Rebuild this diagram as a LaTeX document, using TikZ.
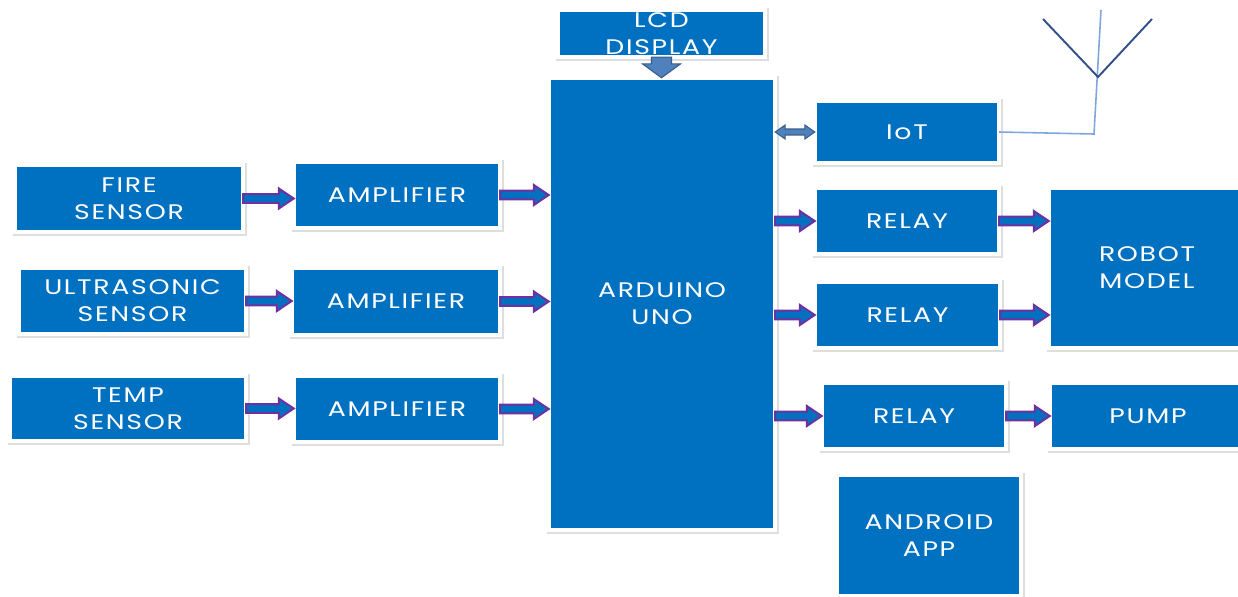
\documentclass[tikz,border=0pt]{standalone}
\usepackage{fontspec}
\newfontfamily\boxfont[LetterSpace=8,FakeStretch=1.27]{Poppins}
\usetikzlibrary{calc}
\definecolor{boxblue}{HTML}{0070C0}
\definecolor{arrowpurple}{HTML}{7030A0}
\definecolor{steel}{HTML}{4F81BD}
\definecolor{steeledge}{HTML}{385D8A}
\definecolor{wireblue}{HTML}{7FA6DC}
\definecolor{mastblue}{HTML}{34508A}
\tikzset{
    blk/.style 2 args={fill=boxblue, draw=white, line width=2.5pt, text=white,
        font=\boxfont\fontsize{12}{15.5}\selectfont, align=center, inner sep=0pt, outer sep=0pt,
        minimum width=#1*0.02cm+2.5pt, minimum height=#2*0.02cm+2.5pt,
        preaction={draw=black!13, line width=3pt, transform canvas={shift={(0.5pt,-0.7pt)}}}},
    fatarrow/.style={draw=arrowpurple, fill=boxblue, line width=1.1pt, line join=miter,
        to path={let \p1=(\tikztostart), \p2=(\tikztotarget) in
            (\x1,\y1+2.5pt) -- (\x2-8.5pt,\y1+2.5pt) -- (\x2-8.5pt,\y1+5.7pt) -- (\x2,\y1)
            -- (\x2-8.5pt,\y1-5.7pt) -- (\x2-8.5pt,\y1-2.5pt) -- (\x1,\y1-2.5pt) -- cycle}},
    dblarrow/.style={draw=steeledge, fill=steel, line width=.6pt,
        to path={let \p1=(\tikztostart), \p2=(\tikztotarget) in
            (\x1,\y1) -- (\x1+5.7pt,\y1+4pt) -- (\x1+5.7pt,\y1+1.7pt) -- (\x2-5.7pt,\y1+1.7pt)
            -- (\x2-5.7pt,\y1+4pt) -- (\x2,\y1) -- (\x2-5.7pt,\y1-4pt) -- (\x2-5.7pt,\y1-1.7pt)
            -- (\x1+5.7pt,\y1-1.7pt) -- (\x1+5.7pt,\y1-4pt) -- cycle}},
    downarrow/.style={draw=steeledge, fill=steel, line width=.6pt,
        to path={let \p1=(\tikztostart), \p2=(\tikztotarget) in
            (\x1-5.7pt,\y1) -- (\x1-5.7pt,\y2+7.9pt) -- (\x1-10.8pt,\y2+7.9pt) -- (\x1,\y2)
            -- (\x1+10.8pt,\y2+7.9pt) -- (\x1+5.7pt,\y2+7.9pt) -- (\x1+5.7pt,\y1) -- cycle}},
    wire/.style={draw=wireblue, line width=.9pt},
    mast/.style={draw=mastblue, line width=1.1pt}
}
\begin{document}
\begin{tikzpicture}[x=0.02cm, y=-0.02cm]
    \useasboundingbox (0,0) rectangle (1238,596);
    % sensors and amplifiers
    \node [blk={224}{63}] (fire) at (129,198.5) {FIRE\\SENSOR};
    \node [blk={223}{62}] (ultra) at (132.5,301) {ULTRASONIC\\SENSOR};
    \node [blk={232}{61}] (temp) at (128,408.5) {TEMP\\SENSOR};
    \node [blk={202}{62}] (amp1) at (397,195) {AMPLIFIER};
    \node [blk={204}{63}] (amp2) at (396,301.5) {AMPLIFIER};
    \node [blk={202}{62}] (amp3) at (397,409) {AMPLIFIER};
    % controller
    \node [blk={203}{43}] (lcd) at (661.5,33.5) {LCD\\DISPLAY};
    \node [blk={222}{448}] (ard) at (662,304) {ARDUINO\\UNO};
    % outputs
    \node [blk={180}{58}] (iot) at (907,132) {IoT};
    \node [blk={180}{62}] (relay1) at (907,221) {RELAY};
    \node [blk={181}{62}] (relay2) at (907.5,315) {RELAY};
    \node [blk={180}{62}] (relay3) at (914,416) {RELAY};
    \node [blk={192}{156}] (robot) at (1147,268) {ROBOT\\MODEL};
    \node [blk={192}{62}] (pump) at (1148,416) {PUMP};
    \node [blk={180}{117}] (app) at (929,535.5) {ANDROID\\APP};
    % arrows
    \draw [fatarrow] (fire.east) to (amp1.west |- fire.east);
    \draw [fatarrow] (ultra.east) to (amp2.west |- ultra.east);
    \draw [fatarrow] (temp.east) to (amp3.west |- temp.east);
    \draw [fatarrow] (amp1.east) to (ard.west |- amp1.east);
    \draw [fatarrow] (amp2.east) to (ard.west |- amp2.east);
    \draw [fatarrow] (amp3.east) to (ard.west |- amp3.east);
    \draw [fatarrow] (ard.east |- relay1.west) to (relay1.west);
    \draw [fatarrow] (ard.east |- relay2.west) to (relay2.west);
    \draw [fatarrow] (ard.east |- relay3.west) to (relay3.west);
    \draw [fatarrow] (relay1.east) to (robot.west |- relay1.east);
    \draw [fatarrow] (relay2.east) to (robot.west |- relay2.east);
    \draw [fatarrow] (relay3.east) to (pump.west |- relay3.east);
    \draw [dblarrow] (ard.east |- iot.west) to (iot.west);
    \draw [downarrow] (lcd.south) to (ard.north);
    % antenna
    \coordinate (foot) at (1094,134);
    \coordinate (tip) at (1101,10);
    \coordinate (fork) at (1098,77);
    \draw [wire] (iot.east) -- (foot) -- (tip);
    \draw [mast] (1043,19) -- (fork) -- (1152,19);
\end{tikzpicture}
\end{document}
